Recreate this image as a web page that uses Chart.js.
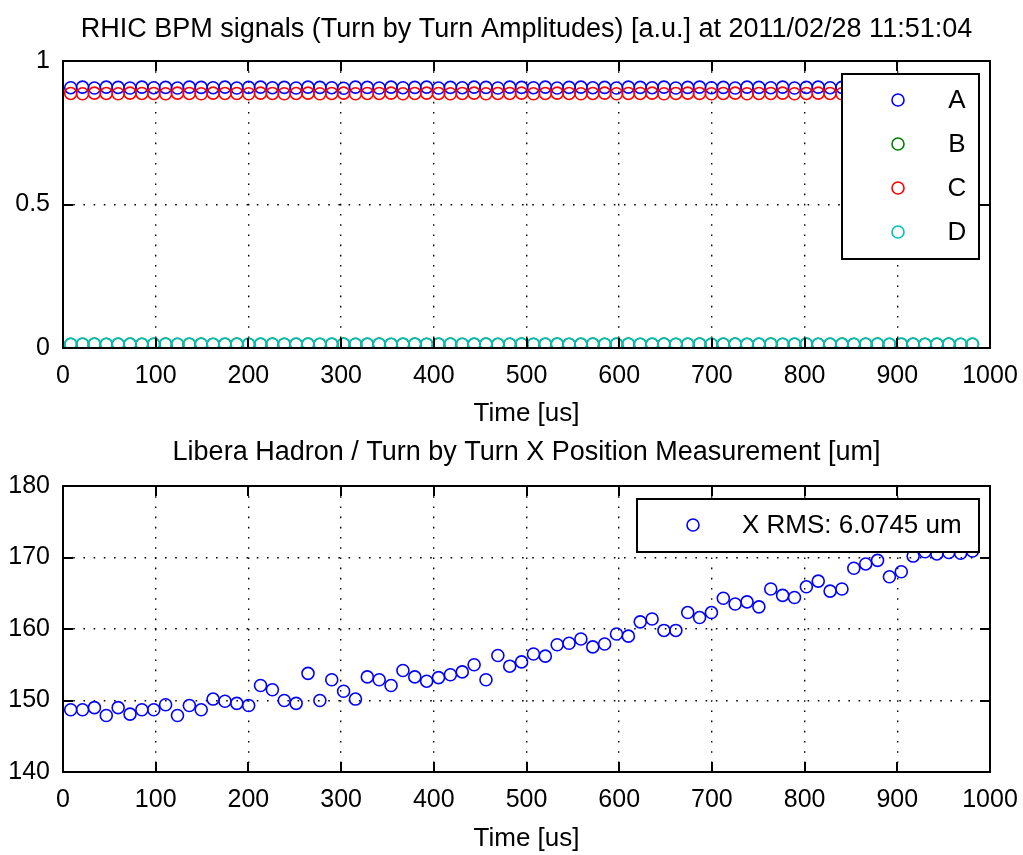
<!DOCTYPE html>
<html>
<head>
<meta charset="utf-8">
<title>RHIC BPM signals</title>
<script src="https://cdn.jsdelivr.net/npm/chart.js@4.4.1/dist/chart.umd.min.js"></script>
<style>
  body { margin: 0; background: #fff; }
  #wrap { position: relative; width: 1023px; height: 855px; }
  canvas { position: absolute; left: 0; }
  #topChart { top: 0; }
  #bottomChart { top: 430px; }
</style>
</head>
<body>
<div id="wrap">
  <canvas id="topChart" width="1023" height="430"></canvas>
  <canvas id="bottomChart" width="1023" height="425"></canvas>
</div>
<script>
// time of each turn [us]
const times = [
  8.3, 21.1, 33.9, 46.7, 59.5, 72.3, 85.1, 97.9, 110.7, 123.5, 136.3,
  149.1, 161.9, 174.7, 187.5, 200.3, 213.1, 225.9, 238.7, 251.5, 264.3, 277.1,
  289.9, 302.7, 315.5, 328.3, 341.1, 353.9, 366.7, 379.5, 392.3, 405.1, 417.9,
  430.7, 443.5, 456.3, 469.1, 481.9, 494.7, 507.5, 520.3, 533.1, 545.9, 558.7,
  571.5, 584.3, 597.1, 609.9, 622.7, 635.5, 648.3, 661.1, 673.9, 686.7, 699.5,
  712.3, 725.1, 737.9, 750.7, 763.5, 776.3, 789.1, 801.9, 814.7, 827.5, 840.3,
  853.1, 865.9, 878.7, 891.5, 904.3, 917.1, 929.9, 942.7, 955.5, 968.3, 981.1
];

// BPM button amplitudes [a.u.]
const signalA = [
  0.907, 0.909, 0.906, 0.909, 0.908, 0.906, 0.909, 0.907, 0.908, 0.906, 0.909,
  0.908, 0.907, 0.909, 0.906, 0.908, 0.909, 0.907, 0.908, 0.906, 0.909, 0.908,
  0.907, 0.905, 0.909, 0.908, 0.906, 0.909, 0.907, 0.908, 0.909, 0.906, 0.908,
  0.907, 0.909, 0.908, 0.906, 0.909, 0.908, 0.907, 0.909, 0.906, 0.908, 0.909,
  0.907, 0.908, 0.906, 0.909, 0.908, 0.907, 0.909, 0.906, 0.908, 0.909, 0.907,
  0.908, 0.906, 0.909, 0.908, 0.907, 0.909, 0.906, 0.908, 0.909, 0.907, 0.908,
  0.906, 0.909, 0.908, 0.907, 0.909, 0.906, 0.908, 0.909, 0.907, 0.908, 0.906
];
const signalB = [
  0.013, 0.013, 0.014, 0.013, 0.013, 0.014, 0.013, 0.013, 0.014, 0.013, 0.013,
  0.014, 0.013, 0.013, 0.014, 0.013, 0.013, 0.014, 0.013, 0.013, 0.014, 0.013,
  0.013, 0.014, 0.013, 0.013, 0.014, 0.013, 0.013, 0.014, 0.013, 0.013, 0.014,
  0.013, 0.013, 0.014, 0.013, 0.013, 0.014, 0.013, 0.013, 0.014, 0.013, 0.013,
  0.014, 0.013, 0.013, 0.014, 0.013, 0.013, 0.014, 0.013, 0.013, 0.014, 0.013,
  0.013, 0.014, 0.013, 0.013, 0.014, 0.013, 0.013, 0.014, 0.013, 0.013, 0.014,
  0.013, 0.013, 0.014, 0.013, 0.013, 0.014, 0.013, 0.013, 0.014, 0.013, 0.013
];
const signalC = [
  0.887, 0.886, 0.888, 0.887, 0.886, 0.888, 0.887, 0.887, 0.886, 0.888, 0.887,
  0.886, 0.888, 0.887, 0.887, 0.886, 0.888, 0.887, 0.886, 0.887, 0.888, 0.886,
  0.887, 0.888, 0.886, 0.887, 0.887, 0.888, 0.886, 0.887, 0.888, 0.887, 0.886,
  0.887, 0.888, 0.886, 0.887, 0.887, 0.888, 0.886, 0.887, 0.888, 0.887, 0.886,
  0.887, 0.888, 0.886, 0.887, 0.887, 0.888, 0.886, 0.887, 0.888, 0.887, 0.886,
  0.887, 0.888, 0.886, 0.887, 0.887, 0.888, 0.886, 0.887, 0.888, 0.887, 0.886,
  0.887, 0.888, 0.886, 0.887, 0.887, 0.888, 0.886, 0.887, 0.888, 0.887, 0.886
];
const signalD = [
  0.013, 0.014, 0.013, 0.013, 0.014, 0.013, 0.013, 0.014, 0.013, 0.013, 0.014,
  0.013, 0.013, 0.014, 0.013, 0.013, 0.014, 0.013, 0.013, 0.014, 0.013, 0.013,
  0.014, 0.013, 0.013, 0.014, 0.013, 0.013, 0.014, 0.013, 0.013, 0.014, 0.013,
  0.013, 0.014, 0.013, 0.013, 0.014, 0.013, 0.013, 0.014, 0.013, 0.013, 0.014,
  0.013, 0.013, 0.014, 0.013, 0.013, 0.014, 0.013, 0.013, 0.014, 0.013, 0.013,
  0.014, 0.013, 0.013, 0.014, 0.013, 0.013, 0.014, 0.013, 0.013, 0.014, 0.013,
  0.013, 0.014, 0.013, 0.013, 0.014, 0.013, 0.013, 0.014, 0.013, 0.013, 0.014
];

// Libera X position [um]
const xPosition = [
  148.7, 148.7, 149.0, 147.9, 149.0, 148.1, 148.7, 148.7, 149.4, 147.9, 149.3,
  148.7, 150.2, 149.9, 149.6, 149.3, 152.1, 151.5, 150.0, 149.6, 153.8, 150.0,
  152.9, 151.3, 150.2, 153.3, 152.9, 152.1, 154.2, 153.3, 152.7, 153.2, 153.6,
  154.0, 155.0, 152.9, 156.3, 154.8, 155.4, 156.5, 156.2, 157.8, 158.0, 158.6,
  157.5, 157.9, 159.3, 159.0, 161.0, 161.4, 159.8, 159.8, 162.3, 161.6, 162.3,
  164.3, 163.5, 163.8, 163.1, 165.6, 164.7, 164.4, 165.9, 166.7, 165.3, 165.6,
  168.5, 169.1, 169.6, 167.3, 168.0, 170.2, 170.8, 170.5, 170.7, 170.6, 170.9
];

const signalLabels = ["A", "B", "C", "D"];
const xRmsLabel = "X RMS: 6.0745 um";

const xTicks = [0, 100, 200, 300, 400, 500, 600, 700, 800, 900, 1000];
const xTickLabels = ["0", "100", "200", "300", "400", "500", "600", "700", "800", "900", "1000"];
const topYTicks = [0, 0.5, 1];
const topYTickLabels = ["0", "0.5", "1"];
const bottomYTicks = [140, 150, 160, 170, 180];
const bottomYTickLabels = ["140", "150", "160", "170", "180"];

const topTitle = "RHIC BPM signals (Turn by Turn Amplitudes) [a.u.] at 2011/02/28 11:51:04";
const bottomTitle = "Libera Hadron / Turn by Turn X Position Measurement [um]";
const xAxisLabel = "Time [us]";

const FONT = '"Liberation Sans", Arial, sans-serif';

function points(values) {
  return values.map((v, i) => ({ x: times[i], y: v }));
}

function circleSet(label, values, color, order) {
  return {
    label: label,
    data: points(values),
    showLine: false,
    pointStyle: "circle",
    pointRadius: 6,
    pointBorderWidth: 1.6,
    pointBorderColor: color,
    pointBackgroundColor: "rgba(0,0,0,0)",
    borderColor: color,
    order: order,
  };
}

// frame, inner ticks, titles and legend, drawn MATLAB style
const matlabFrame = {
  id: "matlabFrame",
  afterDatasetsDraw(chart, args, opts) {
    const ctx = chart.ctx;
    const a = chart.chartArea;
    const cx = (a.left + a.right) / 2;
    ctx.save();

    // legend box
    const lg = opts.legend;
    ctx.fillStyle = "#fff";
    ctx.fillRect(lg.x, lg.y, lg.w, lg.h);
    ctx.strokeStyle = "#000";
    ctx.lineWidth = 2;
    ctx.strokeRect(lg.x, lg.y, lg.w, lg.h);
    ctx.font = "26px " + FONT;
    ctx.textBaseline = "middle";
    chart.data.datasets.forEach((ds, i) => {
      const y = lg.rows[i];
      ctx.beginPath();
      ctx.lineWidth = 1.6;
      ctx.strokeStyle = ds.pointBorderColor;
      ctx.arc(lg.markerX, y, 6, 0, Math.PI * 2);
      ctx.stroke();
      ctx.fillStyle = "#000";
      ctx.textAlign = lg.textAlign;
      ctx.fillText(ds.label, lg.textX, y + 1);
    });

    // axes box
    ctx.strokeStyle = "#000";
    ctx.lineWidth = 2;
    ctx.strokeRect(a.left, a.top, a.right - a.left, a.bottom - a.top);

    // inner ticks on all four sides
    const tl = 10;
    ctx.beginPath();
    chart.scales.x.ticks.forEach((t) => {
      const px = Math.round(chart.scales.x.getPixelForValue(t.value));
      ctx.moveTo(px, a.bottom);
      ctx.lineTo(px, a.bottom - tl);
      ctx.moveTo(px, a.top);
      ctx.lineTo(px, a.top + tl);
    });
    chart.scales.y.ticks.forEach((t) => {
      const py = Math.round(chart.scales.y.getPixelForValue(t.value));
      ctx.moveTo(a.left, py);
      ctx.lineTo(a.left + tl, py);
      ctx.moveTo(a.right, py);
      ctx.lineTo(a.right - tl, py);
    });
    ctx.stroke();

    // titles
    ctx.fillStyle = "#000";
    ctx.textAlign = "center";
    ctx.textBaseline = "middle";
    ctx.font = "27px " + FONT;
    ctx.fillText(opts.title, cx, opts.titleY);
    ctx.font = "26px " + FONT;
    ctx.fillText(xAxisLabel, cx, opts.xLabelY);
    ctx.restore();
  },
};

function axisOptions(ticks, labels, min, max, fixed) {
  return {
    type: "linear",
    min: min,
    max: max,
    afterBuildTicks: (scale) => {
      scale.ticks = ticks.map((v) => ({ value: v }));
    },
    afterFit: fixed,
    grid: {
      color: "#000",
      lineWidth: 1.4,
      drawTicks: false,
    },
    border: { display: false, dash: [1.6, 8.6] },
    ticks: {
      color: "#000",
      font: { family: FONT, size: 25 },
      padding: 13,
      maxRotation: 0,
      autoSkip: false,
      callback: (value) => labels[ticks.indexOf(value)],
    },
  };
}

function makeChart(id, datasets, yTicks, yLabels, yMin, yMax, frame, areaTop, areaBottomGap) {
  return new Chart(document.getElementById(id), {
    type: "scatter",
    data: { datasets: datasets },
    options: {
      responsive: false,
      animation: false,
      events: [],
      layout: { padding: { top: areaTop, right: 33, left: 0, bottom: 0 } },
      scales: {
        x: axisOptions(xTicks, xTickLabels, 0, 1000, (s) => {
          s.height = areaBottomGap;
          s.paddingLeft = 0;
          s.paddingRight = 0;
        }),
        y: axisOptions(yTicks, yLabels, yMin, yMax, (s) => {
          s.width = 63;
          s.paddingTop = 0;
          s.paddingBottom = 0;
        }),
      },
      plugins: {
        legend: { display: false },
        tooltip: { enabled: false },
        matlabFrame: frame,
      },
    },
    plugins: [matlabFrame],
  });
}

makeChart(
  "topChart",
  [
    circleSet(signalLabels[0], signalA, "#0000ff", 4),
    circleSet(signalLabels[1], signalB, "#008000", 3),
    circleSet(signalLabels[2], signalC, "#ff0000", 2),
    circleSet(signalLabels[3], signalD, "#00bfbf", 1),
  ],
  topYTicks, topYTickLabels, 0, 1,
  {
    title: topTitle,
    titleY: 30,
    xLabelY: 414,
    legend: { x: 842, y: 74, w: 137, h: 185, markerX: 898, textX: 957, textAlign: "center", rows: [100, 144, 188, 232] },
  },
  61, 82
);

makeChart(
  "bottomChart",
  [circleSet(xRmsLabel, xPosition, "#0000ff", 1)],
  bottomYTicks, bottomYTickLabels, 140, 180,
  {
    title: bottomTitle,
    titleY: 23,
    xLabelY: 409,
    legend: { x: 637, y: 69, w: 342, h: 53, markerX: 693, textX: 742, textAlign: "left", rows: [95] },
  },
  56, 83
);
</script>
</body>
</html>
